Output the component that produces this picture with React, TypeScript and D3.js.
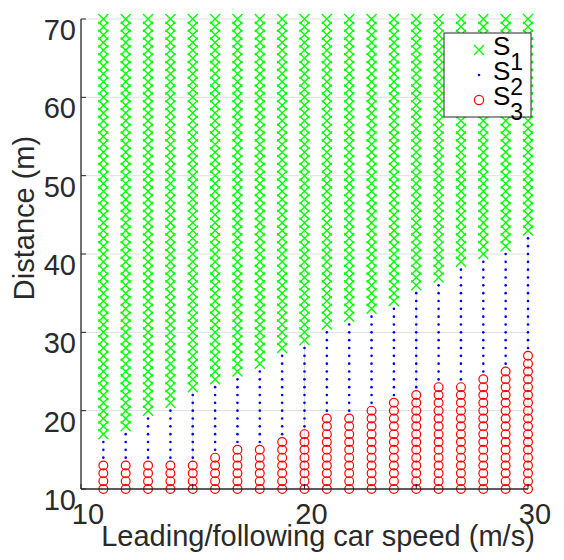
import React, { useEffect, useRef } from 'react';
import * as d3 from 'd3';

// leading/following car speed (m/s), one column of samples per speed
const speeds = [11, 12, 13, 14, 15, 16, 17, 18, 19, 20, 21, 22, 23, 24, 25, 26, 27, 28, 29, 30];
// highest distance (m) classified S3 in each column
const s3Top = [13, 13, 13, 13, 13, 14, 15, 15, 16, 17, 19, 19, 20, 21, 22, 23, 23, 24, 25, 27];
// highest distance (m) classified S2 in each column (S1 above it)
const s2Top = [16, 17, 19, 20, 22, 23, 24, 25, 27, 28, 30, 31, 32, 33, 35, 36, 38, 39, 40, 42];
// sampled distances (m)
const distances = d3.range(10, 71);

const xTicks = [10, 15, 20, 25, 30];
const xTickLabels = [10, 20, 30];
const yTicks = [10, 20, 30, 40, 50, 60, 70];
const legendItems = [
  { key: 'S1', sub: '1' },
  { key: 'S2', sub: '2' },
  { key: 'S3', sub: '3' },
];

const GREEN = '#00ff00';
const BLUE = '#0000ff';
const RED = '#ff0000';
const FONT = '"Liberation Sans", Arial, sans-serif';

const App: React.FC = () => {
  const svgRef = useRef<SVGSVGElement>(null);

  useEffect(() => {
    if (!svgRef.current) return;
    const svg = d3.select(svgRef.current);
    svg.selectAll('*').remove();

    const margin = { top: 19, right: 36, bottom: 71, left: 81 };
    const W = 564, H = 560;
    const width = W - margin.left - margin.right;
    const height = H - margin.top - margin.bottom;

    const x = d3.scaleLinear().domain([10, 30]).range([margin.left, margin.left + width]);
    const y = d3.scaleLinear().domain([10, 70]).range([margin.top + height, margin.top]);

    // build the classified points
    const pts = speeds.flatMap((s, i) =>
      distances.map(d => ({ s, d, cls: d <= s3Top[i] ? 3 : d <= s2Top[i] ? 2 : 1 }))
    );

    // grid
    svg.append('g').selectAll('line')
      .data(yTicks.filter(t => t > 10))
      .enter().append('line')
      .attr('x1', x(10)).attr('x2', x(30))
      .attr('y1', d => y(d)).attr('y2', d => y(d))
      .attr('stroke', '#dedede').attr('stroke-width', 1);
    svg.append('g').selectAll('line')
      .data(xTicks.filter(t => t > 10))
      .enter().append('line')
      .attr('x1', d => x(d)).attr('x2', d => x(d))
      .attr('y1', y(10)).attr('y2', y(70))
      .attr('stroke', '#dedede').attr('stroke-width', 1);

    // S1: green crosses
    const cr = 5;
    svg.append('g').selectAll('path')
      .data(pts.filter(p => p.cls === 1))
      .enter().append('path')
      .attr('d', p => {
        const cx = x(p.s), cy = y(p.d);
        return `M${cx - cr},${cy - cr}L${cx + cr},${cy + cr}M${cx - cr},${cy + cr}L${cx + cr},${cy - cr}`;
      })
      .attr('stroke', GREEN).attr('stroke-width', 1.3).attr('fill', 'none');

    // S2: blue dots
    svg.append('g').selectAll('circle')
      .data(pts.filter(p => p.cls === 2))
      .enter().append('circle')
      .attr('cx', p => x(p.s)).attr('cy', p => y(p.d))
      .attr('r', 1.3).attr('fill', BLUE);

    // S3: red circles
    svg.append('g').selectAll('circle')
      .data(pts.filter(p => p.cls === 3))
      .enter().append('circle')
      .attr('cx', p => x(p.s)).attr('cy', p => y(p.d))
      .attr('r', 4.4).attr('fill', 'none')
      .attr('stroke', RED).attr('stroke-width', 1.2);

    // axes
    const axisColor = '#262626';
    svg.append('line')
      .attr('x1', x(10)).attr('x2', x(10)).attr('y1', y(10)).attr('y2', y(70))
      .attr('stroke', axisColor).attr('stroke-width', 1.3);
    svg.append('line')
      .attr('x1', x(10)).attr('x2', x(30)).attr('y1', y(10)).attr('y2', y(10))
      .attr('stroke', axisColor).attr('stroke-width', 1.3);

    svg.append('g').selectAll('line')
      .data(yTicks)
      .enter().append('line')
      .attr('x1', x(10)).attr('x2', x(10) + 5)
      .attr('y1', d => y(d)).attr('y2', d => y(d))
      .attr('stroke', axisColor).attr('stroke-width', 1);
    svg.append('g').selectAll('line')
      .data(xTicks)
      .enter().append('line')
      .attr('x1', d => x(d)).attr('x2', d => x(d))
      .attr('y1', y(10)).attr('y2', y(10) - 5)
      .attr('stroke', axisColor).attr('stroke-width', 1);

    // tick labels
    svg.append('g').selectAll('text')
      .data(yTicks)
      .enter().append('text')
      .attr('x', x(10) - 5)
      .attr('y', d => y(d) + 21)
      .attr('text-anchor', 'end')
      .style('font-family', FONT).style('font-size', '29px').style('fill', '#2a2a2a')
      .text(d => d);
    svg.append('g').selectAll('text')
      .data(xTickLabels)
      .enter().append('text')
      .attr('x', d => x(d) + 7)
      .attr('y', y(10) + 35)
      .attr('text-anchor', 'middle')
      .style('font-family', FONT).style('font-size', '29px').style('fill', '#2a2a2a')
      .text(d => d);

    // axis labels
    svg.append('text')
      .attr('x', 318)
      .attr('y', y(10) + 57)
      .attr('text-anchor', 'middle')
      .style('font-family', FONT).style('font-size', '29px').style('fill', '#2a2a2a')
      .text('Leading/following car speed (m/s)');
    svg.append('text')
      .attr('transform', `translate(34, 218) rotate(-90)`)
      .attr('text-anchor', 'middle')
      .style('font-family', FONT).style('font-size', '29px').style('fill', '#2a2a2a')
      .text('Distance (m)');

    // legend
    const lg = svg.append('g').attr('transform', 'translate(444, 33)');
    lg.append('rect')
      .attr('width', 87).attr('height', 84)
      .attr('fill', '#fff').attr('stroke', '#262626').attr('stroke-width', 1);
    const rows = lg.selectAll('g.row')
      .data(legendItems)
      .enter().append('g')
      .attr('class', 'row')
      .attr('transform', (_, i) => `translate(35, ${17 + i * 25})`);
    rows.filter((_, i) => i === 0).append('path')
      .attr('d', `M-5,-5L5,5M-5,5L5,-5`)
      .attr('stroke', GREEN).attr('stroke-width', 1.3);
    rows.filter((_, i) => i === 1).append('circle')
      .attr('r', 1.3).attr('fill', BLUE);
    rows.filter((_, i) => i === 2).append('circle')
      .attr('r', 4.6).attr('fill', 'none').attr('stroke', RED).attr('stroke-width', 1.2);
    const lt = rows.append('text')
      .attr('x', 14).attr('y', 5)
      .style('font-family', FONT).style('font-size', '26px').style('fill', '#000');
    lt.append('tspan').text('S');
    lt.append('tspan').attr('dy', 15).style('font-size', '23px').text(d => d.sub);
  }, []);

  return (
    <svg ref={svgRef} width={564} height={560}
      style={{ position: 'absolute', left: 0, top: 0, background: '#fff' }} />
  );
};

export default App;
